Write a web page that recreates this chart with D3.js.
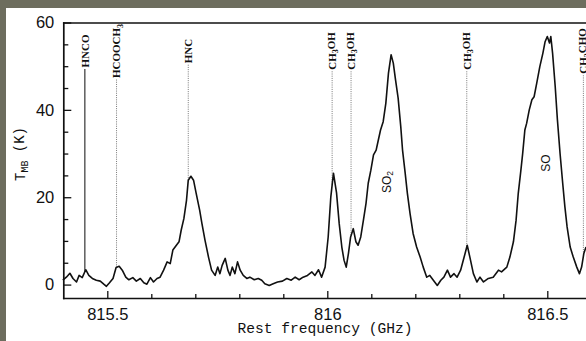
<!DOCTYPE html>
<html>
<head>
<meta charset="utf-8">
<script src="https://cdnjs.cloudflare.com/ajax/libs/d3/7.8.5/d3.min.js"></script>
<style>
  html, body { margin: 0; padding: 0; background: #6d6d5e; }
  svg { display: block; }
</style>
</head>
<body>
<svg id="chart" width="586" height="341"></svg>
<script>
// spectrum: rest frequency (GHz) and T_MB (K)
const freq = [
  815.399, 815.407, 815.415, 815.422, 815.430, 815.436, 815.443, 815.451, 815.458, 815.466,
  815.475, 815.484, 815.492, 815.498, 815.505, 815.513, 815.520, 815.527, 815.534, 815.542,
  815.549, 815.558, 815.566, 815.575, 815.583, 815.590, 815.598, 815.605, 815.613, 815.620,
  815.628, 815.636, 815.643, 815.649, 815.657, 815.663, 815.668, 815.674, 815.680, 815.684,
  815.690, 815.696, 815.702, 815.710, 815.715, 815.722, 815.730, 815.737, 815.745, 815.751,
  815.756, 815.761, 815.768, 815.774, 815.779, 815.784, 815.790, 815.796, 815.802, 815.809,
  815.817, 815.824, 815.834, 815.843, 815.851, 815.858, 815.868, 815.877, 815.887, 815.898,
  815.908, 815.918, 815.927, 815.936, 815.945, 815.955, 815.965, 815.972, 815.980, 815.987,
  815.995, 816.002, 816.008, 816.014, 816.021, 816.027, 816.033, 816.038, 816.043, 816.048,
  816.053, 816.059, 816.065, 816.070, 816.076, 816.082, 816.088, 816.093, 816.099, 816.105,
  816.111, 816.116, 816.121, 816.127, 816.133, 816.139, 816.145, 816.150, 816.155, 816.161,
  816.167, 816.171, 816.177, 816.182, 816.188, 816.195, 816.203, 816.211, 816.218, 816.226,
  816.233, 816.241, 816.250, 816.258, 816.265, 816.273, 816.280, 816.288, 816.295, 816.303,
  816.311, 816.318, 816.324, 816.332, 816.340, 816.347, 816.355, 816.366, 816.377, 816.389,
  816.396, 816.408, 816.415, 816.423, 816.429, 816.434, 816.440, 816.444, 816.449, 816.453,
  816.459, 816.465, 816.470, 816.476, 816.483, 816.490, 816.495, 816.500, 816.505, 816.508,
  816.512, 816.518, 816.523, 816.529, 816.535, 816.540, 816.545, 816.552, 816.559, 816.567,
  816.573, 816.578, 816.583, 816.588
]
const tmb = [
  1.0, 1.7, 2.6, 1.4, 0.6, 2.1, 1.6, 3.4, 2.1, 1.4,
  1.0, 0.8, 0.1, -0.4, 0.4, 1.4, 3.9, 4.2, 3.3, 1.7,
  1.1, 1.6, 0.8, 1.4, 0.4, 0.1, 1.6, 0.6, 1.4, 1.7,
  3.3, 5.2, 4.8, 7.9, 9.0, 9.8, 12.5, 15.1, 19.3, 23.9,
  24.8, 23.9, 20.9, 17.0, 14.0, 10.2, 6.3, 3.3, 2.1, 4.0,
  2.5, 4.4, 6.0, 3.3, 2.1, 4.0, 2.5, 5.2, 3.3, 2.1,
  1.4, 1.7, 1.1, 1.4, 1.0, 0.2, -0.2, 0.2, 0.6, 0.8,
  1.4, 1.0, 1.7, 1.1, 1.7, 2.1, 2.9, 2.1, 3.4, 1.7,
  4.0, 10.9, 20.1, 25.5, 21.0, 14.0, 8.6, 5.6, 4.0, 7.1,
  10.9, 12.8, 9.8, 9.0, 10.9, 14.7, 18.6, 23.2, 26.2, 29.7,
  30.8, 33.1, 35.4, 37.3, 41.5, 48.4, 52.6, 50.7, 46.9, 42.7,
  36.1, 30.8, 25.5, 20.9, 16.3, 11.7, 8.6, 6.3, 4.0, 1.7,
  2.1, 1.0, -0.2, 1.0, 1.7, 3.3, 1.7, 2.5, 1.7, 3.3,
  6.3, 9.0, 6.3, 2.5, 0.6, 1.7, 0.6, 1.4, 1.7, 3.3,
  2.9, 4.0, 6.3, 9.8, 14.7, 20.9, 26.2, 30.0, 35.4, 36.9,
  40.0, 42.3, 43.0, 46.1, 49.9, 53.0, 55.6, 56.8, 55.3, 56.8,
  53.0, 45.3, 37.7, 30.0, 23.2, 17.8, 13.2, 8.6, 6.3, 4.0,
  2.5, 4.0, 7.1, 8.6
]

// identified lines (top labels), "_3" means subscript 3
const lineNames = ["HNCO", "HCOOCH_3", "HNC", "CH_3OH", "CH_3OH", "CH_3OH", "CH_3CHO"]
const lineFreqs = [815.449, 815.521, 815.684, 816.011, 816.054, 816.317, 816.582]
const lineDotted = [false, true, true, true, true, true, true]

// labels written on the broad peaks
const peakNames = ["SO_2", "SO"]
const peakFreqs = [816.135, 816.496]
const peakTmb = [23.5, 27.8]

const xTicks = [815.5, 816, 816.5]
const xMinor = [815.6, 815.7, 815.8, 815.9, 816.1, 816.2, 816.3, 816.4]
const yTicks = [0, 20, 40, 60]
const yMinor = [5, 10, 15, 25, 30, 35, 45, 50, 55]

const W = 586, H = 341
const plotLeft = 63.3, plotTop = 22.5, plotBottom = 298

const x = d3.scaleLinear().domain([815.4, 816.6]).range([plotLeft, plotLeft + 1.2 * 440])
const y = d3.scaleLinear().domain([-3.07, 60]).range([plotBottom, plotTop])

const ink = "#111"
const svg = d3.select("#chart")

// white slide panel over the olive background
svg.append("rect").attr("x", 6).attr("y", 8).attr("width", W).attr("height", H).attr("fill", "#fff")

function addName(sel, name, subSize) {
  // split "CH_3OH" into plain / subscript pieces
  const parts = name.split(/(_\d)/).filter(p => p.length)
  let down = false
  parts.forEach(p => {
    const t = sel.append("tspan")
    if (p[0] === "_") {
      t.text(p.slice(1)).attr("font-size", subSize).attr("dy", "0.3em")
      down = true
    } else {
      t.text(p)
      if (down) { t.attr("dy", "-0.3em"); down = false }
    }
  })
}

// axes
function styleAxis(g, fontSize) {
  g.selectAll(".domain").attr("stroke", ink).attr("stroke-width", 1.7).attr("stroke-linecap", "square")
  g.selectAll(".tick line").attr("stroke", ink).attr("stroke-width", 1.3)
  g.selectAll(".tick text").attr("fill", ink)
  g.attr("font-family", "'Liberation Sans', Arial, sans-serif").attr("font-size", fontSize)
}

const yMinorG = svg.append("g").attr("transform", `translate(${plotLeft},0)`)
  .call(d3.axisLeft(y).tickValues(yMinor).tickSize(-5).tickFormat(""))
yMinorG.select(".domain").remove()
styleAxis(yMinorG, 16)

const xMinorG = svg.append("g").attr("transform", `translate(0,${plotBottom})`)
  .call(d3.axisBottom(x).tickValues(xMinor).tickSize(-4).tickFormat(""))
xMinorG.select(".domain").remove()
styleAxis(xMinorG, 16)

const yAxisG = svg.append("g").attr("transform", `translate(${plotLeft},0)`)
  .call(d3.axisLeft(y).tickValues(yTicks).tickSizeInner(-8).tickSizeOuter(0).tickPadding(9))
styleAxis(yAxisG, 16.5)

const xAxisG = svg.append("g").attr("transform", `translate(0,${plotBottom})`)
  .call(d3.axisBottom(x).tickValues(xTicks).tickSizeInner(-7).tickSizeOuter(0).tickPadding(10)
    .tickFormat(d => String(d)))
styleAxis(xAxisG, 16.5)

const topG = svg.append("g").attr("transform", `translate(0,${plotTop})`)
  .call(d3.axisTop(x).tickValues([]).tickSizeOuter(0))
styleAxis(topG, 16)

// axis titles, typewriter face
svg.append("text")
  .attr("x", 325).attr("y", 333)
  .attr("text-anchor", "middle")
  .attr("font-family", "'Liberation Mono', 'Courier New', monospace")
  .attr("font-size", 14.6)
  .attr("fill", ink)
  .text("Rest frequency (GHz)")

const yTitle = svg.append("text")
  .attr("transform", "translate(20,154) rotate(-90)")
  .attr("text-anchor", "middle")
  .attr("dy", "0.35em")
  .attr("font-family", "'Liberation Mono', 'Courier New', monospace")
  .attr("font-size", 14)
  .attr("fill", ink)
yTitle.append("tspan").text("T")
yTitle.append("tspan").text("MB").attr("font-size", 10).attr("dy", "0.3em")
yTitle.append("tspan").text(" (K)").attr("dy", "-0.3em")

// linear interpolation of the spectrum at a given frequency
const bisect = d3.bisector(d => d).left
function tmbAt(f) {
  const i = bisect(freq, f)
  if (i <= 0) return tmb[0]
  if (i >= freq.length) return tmb[tmb.length - 1]
  const k = (f - freq[i - 1]) / (freq[i] - freq[i - 1])
  return tmb[i - 1] + (tmb[i] - tmb[i - 1]) * k
}

// line identifications
const labelMid = 51
lineFreqs.forEach((f, i) => {
  const lx = x(f)
  const label = svg.append("text")
    .attr("transform", `translate(${lx},${labelMid}) rotate(-90)`)
    .attr("text-anchor", "middle")
    .attr("dy", "0.35em")
    .attr("font-family", "'Liberation Serif', 'Times New Roman', serif")
    .attr("font-weight", "bold")
    .attr("font-size", 11)
    .attr("fill", ink)
  addName(label, lineNames[i], 8)
  const len = label.node().getComputedTextLength()
  svg.append("line")
    .attr("x1", lx).attr("x2", lx)
    .attr("y1", labelMid + len / 2 + 1.5)
    .attr("y2", y(tmbAt(f)))
    .attr("stroke", lineDotted[i] ? "#777" : "#222")
    .attr("stroke-width", lineDotted[i] ? 1 : 1.1)
    .attr("stroke-dasharray", lineDotted[i] ? "1,1.2" : null)
})

// spectrum
const line = d3.line()
  .x((d, i) => x(freq[i]))
  .y(d => y(d))

svg.append("path")
  .datum(tmb)
  .attr("d", line)
  .attr("fill", "none")
  .attr("stroke", ink)
  .attr("stroke-width", 1.6)
  .attr("stroke-linejoin", "round")

// SO2 / SO labels on the broad peaks
peakNames.forEach((name, i) => {
  const t = svg.append("text")
    .attr("transform", `translate(${x(peakFreqs[i])},${y(peakTmb[i])}) rotate(-90)`)
    .attr("text-anchor", "middle")
    .attr("dy", "0.35em")
    .attr("font-family", "'Liberation Sans', Arial, sans-serif")
    .attr("font-size", 12)
    .attr("fill", ink)
  addName(t, name, 8.5)
})
</script>
</body>
</html>
